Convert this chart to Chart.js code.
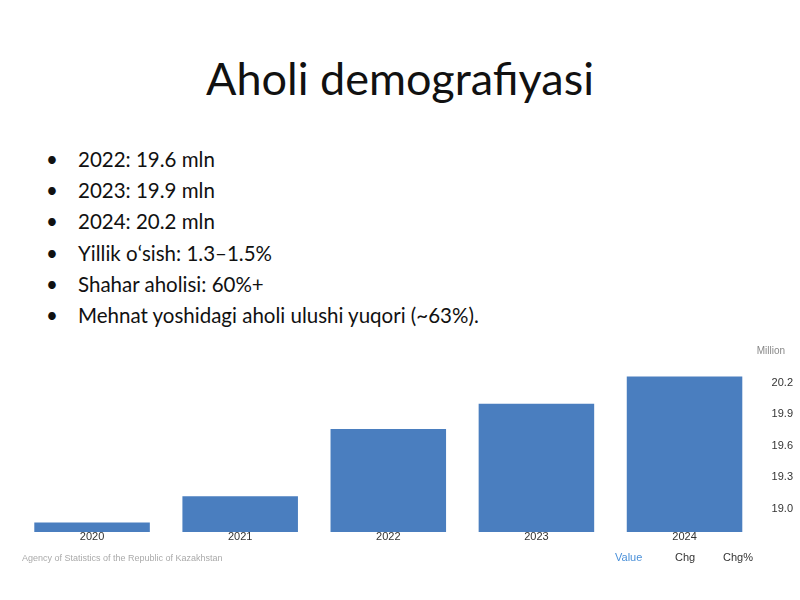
<!DOCTYPE html>
<html><head><meta charset="utf-8">
<script src="https://cdn.jsdelivr.net/npm/chart.js@4"></script>
<style>
body{margin:0;width:800px;height:600px;background:#fff;font-family:Lato,"Open Sans",sans-serif;position:relative;overflow:hidden}
h1{position:absolute;top:50px;left:0;width:800px;text-align:center;margin:0;font-weight:normal;font-size:45px;color:#111;line-height:56px}
ul{position:absolute;top:144px;left:50px;margin:0;padding:0;list-style:none}
li{font-size:20.5px;line-height:31.2px;color:#111;position:relative;padding-left:28px}
li:before{content:"•";position:absolute;left:-4px}
#wrap{position:absolute;left:0;top:340px;width:800px;height:240px}
</style></head><body>
<h1>Aholi demografiyasi</h1>
<ul>
<li>2022: 19.6 mln</li>
<li>2023: 19.9 mln</li>
<li>2024: 20.2 mln</li>
<li>Yillik oʻsish: 1.3–1.5%</li>
<li>Shahar aholisi: 60%+</li>
<li>Mehnat yoshidagi aholi ulushi yuqori (~63%).</li>
</ul>
<div id="wrap"><canvas id="c"></canvas></div>
<script>
const years=["2020","2021","2022","2023","2024"];
const population=[18.87,19.12,19.76,20.0,20.26];
const yTicks=[19.0,19.3,19.6,19.9,20.2];
const extra={id:'extra',afterDatasetsDraw(ch){const c=ch.ctx;c.save();
const xs=ch.scales.x;c.font='11px "Liberation Sans",Arial';c.fillStyle='#333';c.textAlign='center';c.textBaseline='middle';
years.forEach((y,i)=>c.fillText(y,xs.getPixelForValue(i),ch.chartArea.bottom+5));
c.textBaseline='alphabetic';
c.font='10px "Liberation Sans",Arial';c.fillStyle='#888';c.textAlign='right';c.fillText('Million',785,14);
c.textAlign='left';c.fillStyle='#aaa';c.font='9px "Liberation Sans",Arial';c.fillText('Agency of Statistics of the Republic of Kazakhstan',22,221);
c.font='11px "Liberation Sans",Arial';c.fillStyle='#4a90d9';c.fillText('Value',615,221);c.fillStyle='#333';c.fillText('Chg',675,221);c.fillText('Chg%',723,221);c.restore();}};
new Chart(document.getElementById('c'),{type:'bar',data:{labels:years,datasets:[{data:population,backgroundColor:'#4a7ebf',barPercentage:0.78,categoryPercentage:1}]},
options:{responsive:true,maintainAspectRatio:false,animation:false,layout:{padding:{left:18,top:28,bottom:40,right:2}},
plugins:{legend:{display:false},tooltip:{enabled:false}},
scales:{x:{grid:{display:false},border:{display:false},ticks:{display:false}},
y:{position:'right',min:18.78,max:20.34,grid:{display:false},border:{display:false},afterBuildTicks(a){a.ticks=yTicks.map(v=>({value:v}))},ticks:{color:'#333',padding:5,font:{size:11,family:'"Liberation Sans",Arial'},callback:v=>v.toFixed(1)}}}},plugins:[extra]});
</script></body></html>
